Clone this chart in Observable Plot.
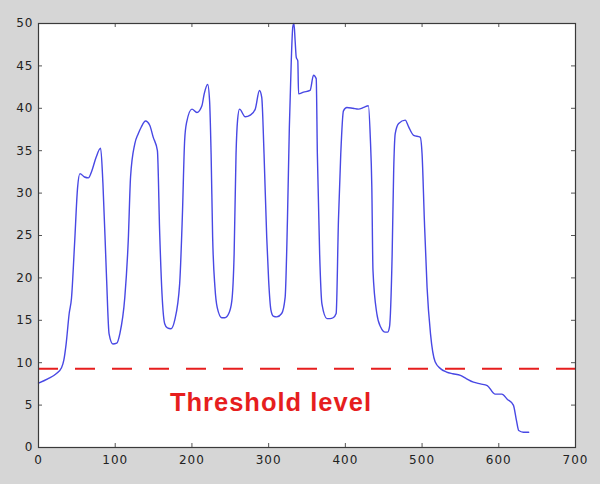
<!DOCTYPE html>
<html>
<head>
<meta charset="utf-8">
<script src="https://cdn.jsdelivr.net/npm/d3@7"></script>
<script src="https://cdn.jsdelivr.net/npm/@observablehq/plot@0.6"></script>
<style>
  html, body { margin: 0; padding: 0; background: #d6d6d6; }
  #chart { width: 600px; height: 484px; }
</style>
</head>
<body>
<div id="chart"></div>
<script>
// Sample index (x) and signal amplitude (y)
const sample = [
  0, 12, 23, 30, 33, 36, 40, 43, 47, 51,
  54, 60, 65, 69, 75, 81, 84, 88.5, 92, 97,
  102, 106, 112.5, 117, 120, 125.5, 130, 134, 139.5, 145,
  149.5, 155, 158, 161, 164.5, 168, 172.5, 177.5, 184, 187.5,
  190.5, 193, 200, 206.5, 213, 216, 220.5, 223, 225, 227,
  230, 233, 239, 243, 248, 252, 255, 257.5, 259.5, 262,
  269.5, 276, 282.5, 288, 291, 294, 297.5, 300, 303, 306,
  310.5, 317, 321.5, 324.5, 327, 329.5, 331.5, 333, 334.5, 336,
  338, 339, 345.5, 354, 358.5, 362, 363.5, 366.5, 369.5, 376,
  380, 384, 388, 391, 394, 397.5, 402, 410, 417, 424,
  430, 432.5, 434.5, 436, 441, 446, 452, 455, 457.5, 461,
  463, 465, 469.5, 478, 482.5, 489, 497.5, 500, 503, 506.5,
  511, 517, 524, 532, 540, 550, 558, 567, 576, 585,
  595, 604, 611, 619, 623, 626, 632, 639
];
const amplitude = [
  7.6, 8.1, 8.7, 9.4, 10.3, 12.2, 15.8, 17.6, 24, 30.7,
  32.3, 31.9, 31.8, 32.5, 34.2, 35.3, 31.1, 20.5, 13.4, 12.2,
  12.3, 13.4, 17.7, 24.4, 31.9, 35.8, 37, 37.8, 38.5, 38,
  36.6, 35, 25.2, 18.1, 14.6, 14.1, 14, 15, 19.3, 27.2,
  36.2, 38.3, 39.9, 39.5, 40.3, 41.7, 42.8, 40.9, 34.6, 24.8,
  18.9, 16.5, 15.3, 15.3, 15.8, 17.3, 22.8, 34.6, 38.6, 39.9,
  39, 39.2, 39.9, 42.1, 41.3, 34.6, 24.8, 19.7, 16.2, 15.5,
  15.4, 15.8, 17.7, 26.8, 37.8, 45.6, 49.6, 50, 48, 46,
  45.6, 41.7, 41.9, 42.1, 43.9, 43.5, 34.6, 22.8, 16.9, 15.2,
  15.2, 15.3, 15.8, 26.8, 34.6, 39.7, 40.1, 40, 39.9, 40.1,
  40.3, 36.6, 30.7, 20.9, 15.8, 14.2, 13.6, 13.6, 14.2, 22.8,
  32.7, 37, 38.2, 38.6, 37.8, 36.8, 36.6, 34.6, 26.8, 18.9,
  13.4, 10.1, 9.3, 8.9, 8.7, 8.5, 8.1, 7.7, 7.5, 7.3,
  6.3, 6.3, 5.7, 5.0, 3.2, 2.0, 1.8, 1.8
];
const threshold = [9.3];
const annotation = [{text: "Threshold level", x: 303, y: 5.3}];
const xTicks = [0, 100, 200, 300, 400, 500, 600, 700];
const yTicks = [0, 5, 10, 15, 20, 25, 30, 35, 40, 45, 50];

const series = sample.map((x, i) => ({x, y: amplitude[i]}));

const W = 600, H = 484, mL = 38, mR = 25, mT = 23, mB = 37;
const plotW = W - mL - mR, plotH = H - mT - mB;
const tickLen = 4;

const chart = Plot.plot({
  width: W,
  height: H,
  marginLeft: mL,
  marginRight: mR,
  marginTop: mT,
  marginBottom: mB,
  x: {domain: [0, 700], label: null},
  y: {domain: [0, 50], label: null},
  style: {background: "#d6d6d6", fontFamily: "DejaVu Sans, sans-serif", fontSize: "12px", letterSpacing: "1px", color: "#222"},
  marks: [
    Plot.frame({fill: "white", stroke: null}),
    Plot.line(series, {x: "x", y: "y", stroke: "#4848e4", strokeWidth: 1.4, curve: "monotone-x"}),
    Plot.ruleY(threshold, {stroke: "#e61e1e", strokeWidth: 2, strokeDasharray: "20 17"}),
    Plot.text(annotation, {x: "x", y: "y", text: "text", fill: "#e61e1e", fontFamily: "Liberation Sans, Arial, sans-serif", fontWeight: "bold", fontSize: 25.5}),
    // inward ticks on all four sides
    Plot.tickX(xTicks, {x: d => d, insetTop: plotH - tickLen, stroke: "#555"}),
    Plot.tickX(xTicks, {x: d => d, insetBottom: plotH - tickLen, stroke: "#555"}),
    Plot.tickY(yTicks, {y: d => d, insetRight: plotW - tickLen, stroke: "#555"}),
    Plot.tickY(yTicks, {y: d => d, insetLeft: plotW - tickLen, stroke: "#555"}),
    Plot.frame({stroke: "#3a3a3a", strokeWidth: 1.2}),
    Plot.axisX(xTicks, {tickSize: 0, tickPadding: 8, fill: "#222", label: null}),
    Plot.axisY(yTicks, {tickSize: 0, tickPadding: 5, fill: "#222", label: null})
  ]
});
document.getElementById("chart").appendChild(chart);
</script>
</body>
</html>
